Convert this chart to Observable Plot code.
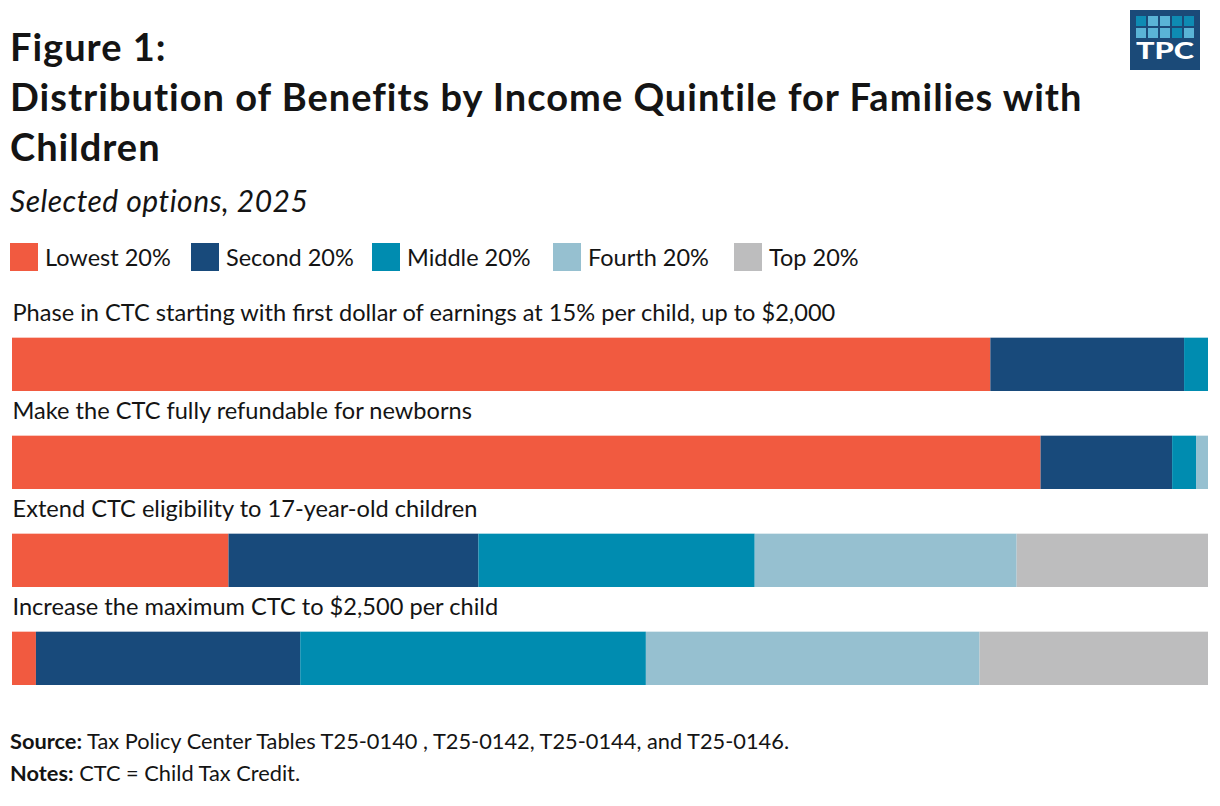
<!DOCTYPE html>
<html>
<head>
<meta charset="utf-8">
<script src="https://cdn.jsdelivr.net/npm/d3@7"></script>
<script src="https://cdn.jsdelivr.net/npm/@observablehq/plot@0.6"></script>
<style>
  html, body { margin: 0; padding: 0; background: #fff; }
  body { width: 1220px; height: 806px; position: relative; font-family: Lato, "Open Sans", sans-serif; color: #141414; overflow: hidden; }
  #wrap { padding: 21px 0 0 0; }
  h1 { margin: 0 0 0 10px; font-size: 38px; line-height: 50px; font-weight: 700; letter-spacing: 1px; white-space: nowrap; }
  .sub { margin: 12px 0 0 10px; font-size: 30px; line-height: 34px; font-style: italic; letter-spacing: 0.5px; }
  .legend { margin: 26px 0 0 10px; height: 28px; display: flex; align-items: center; font-size: 23.5px; }
  .legend .item { display: flex; align-items: center; width: 181px; flex: none; }
  .legend .sw { width: 28px; height: 28px; margin-right: 7px; }
  #chart { margin-top: 14px; height: 414px; }
  .foot { margin: 26px 0 0 10px; font-size: 21.8px; line-height: 32px; white-space: nowrap; }
  .foot b { font-weight: 700; }
  #logo { position: absolute; left: 1130px; top: 10px; }
</style>
</head>
<body>
<svg id="logo" width="70" height="60" viewBox="0 0 70 60">
  <rect x="0" y="0" width="70" height="60" fill="#1b4a78"/>
  <g id="logoGrid"></g>
  <text x="35" y="58" fill="#fff" font-family="Lato" font-weight="900" font-size="22" text-anchor="middle" textLength="58" lengthAdjust="spacingAndGlyphs" dy="-9">TPC</text>
</svg>
<div id="wrap">
  <h1>Figure 1:<br>Distribution of Benefits by Income Quintile for Families with<br>Children</h1>
  <div class="sub">Selected options, 2025</div>
  <div class="legend" id="legend"></div>
  <div id="chart"></div>
  <div class="foot"><b>Source:</b> Tax Policy Center Tables T25-0140 , T25-0142, T25-0144, and T25-0146.<br><b>Notes:</b> CTC = Child Tax Credit.</div>
</div>
<script>
const categories = [
  "Phase in CTC starting with first dollar of earnings at 15% per child, up to $2,000",
  "Make the CTC fully refundable for newborns",
  "Extend CTC eligibility to 17-year-old children",
  "Increase the maximum CTC to $2,500 per child"
];
const quintiles = ["Lowest 20%", "Second 20%", "Middle 20%", "Fourth 20%", "Top 20%"];
const colors = ["#f15a40", "#184a7b", "#008cb0", "#96c0d0", "#bdbdbe"];
const lowest = [81.8, 86.0, 18.1, 2.0];
const second = [16.2, 11.0, 20.9, 22.1];
const middle = [2.0, 2.0, 23.1, 28.9];
const fourth = [0.0, 1.0, 21.9, 27.9];
const top20  = [0.0, 0.0, 16.0, 19.1];

const series = [lowest, second, middle, fourth, top20];
const data = [];
categories.forEach((c, i) => {
  quintiles.forEach((q, j) => data.push({category: c, quintile: q, value: series[j][i]}));
});

// Legend
const leg = document.getElementById("legend");
quintiles.forEach((q, j) => {
  const it = document.createElement("div"); it.className = "item";
  const sw = document.createElement("div"); sw.className = "sw"; sw.style.background = colors[j];
  const tx = document.createElement("span"); tx.textContent = q;
  it.appendChild(sw); it.appendChild(tx); leg.appendChild(it);
});

// Logo grid
const logoColors = [["#0e8bb3","#5ab4d6","#5ab4d6","#0e8bb3","#0e8bb3"],["#5ab4d6","#5ab4d6","#5ab4d6","#0e8bb3","#5ab4d6"]];
const g = document.getElementById("logoGrid");
logoColors.forEach((row, r) => row.forEach((col, c) => {
  const rect = document.createElementNS("http://www.w3.org/2000/svg", "rect");
  rect.setAttribute("x", 6 + c * 12); rect.setAttribute("y", 6 + r * 12);
  rect.setAttribute("width", 10); rect.setAttribute("height", 10);
  rect.setAttribute("fill", col); g.appendChild(rect);
}));

const mTop = 6.33, mBottom = 13;
const step = (414 - mTop - mBottom) / 4;
const plot = Plot.plot({
  width: 1220,
  height: 414,
  marginTop: mTop,
  marginBottom: mBottom,
  marginLeft: 12,
  marginRight: 12,
  style: {fontFamily: "Lato, sans-serif", color: "#141414", background: "#fff"},
  x: {domain: [0, 100], axis: null},
  y: {domain: categories, axis: null, padding: 0},
  color: {domain: quintiles, range: colors},
  marks: [
    Plot.barX(data, Plot.stackX({x: "value", y: "category", fill: "quintile", order: null, insetTop: step - 54})),
    Plot.text(categories, {y: d => d, text: d => d, frameAnchor: "left", textAnchor: "start", dy: -29, fontSize: 23.6, fill: "#141414"})
  ]
});
document.getElementById("chart").appendChild(plot);
</script>
</body>
</html>
